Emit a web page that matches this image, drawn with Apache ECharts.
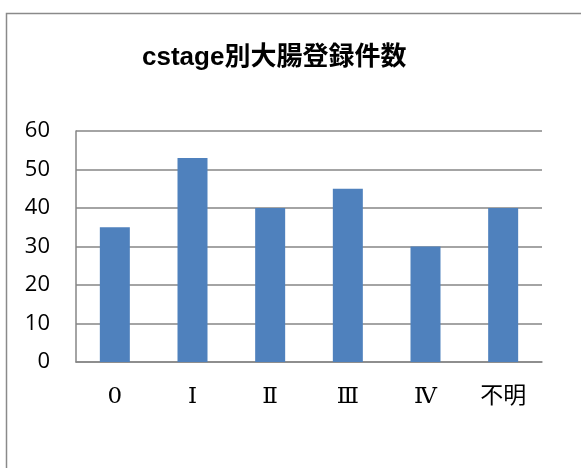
<!DOCTYPE html>
<html><head><meta charset="utf-8">
<script src="https://cdn.jsdelivr.net/npm/echarts@6/dist/echarts.min.js"></script>
<style>html,body{margin:0;padding:0;background:#fff}#c{width:581px;height:468px}</style>
</head><body><div id="c"></div>
<script>
const categories = ['0', 'Ⅰ', 'Ⅱ', 'Ⅲ', 'Ⅳ', '不明'];
const values = [35, 53, 40, 45, 30, 40];
const yTicks = { min: 0, max: 60, interval: 10 };
const titleText = 'cstage別大腸登録件数';

const chart = echarts.init(document.getElementById('c'), null, { renderer: 'canvas' });
chart.setOption({
  backgroundColor: '#fff',
  animation: false,
  graphic: [{
    type: 'rect', left: 4, top: 11, shape: { width: 620, height: 520 },
    style: { fill: 'none', stroke: '#8a8a8a', lineWidth: 1.5 }, silent: true
  }],
  title: {
    text: titleText, left: 137, top: 40,
    textStyle: { fontFamily: 'Liberation Sans, Noto Sans CJK JP', fontWeight: 'bold', fontSize: 26, color: '#000' }
  },
  grid: { left: 76, right: 39, top: 131, bottom: 106, containLabel: false },
  xAxis: {
    type: 'category', data: categories,
    axisLine: { show: true, lineStyle: { color: '#868686', width: 1.5 } },
    axisTick: { show: false },
    axisLabel: { margin: 24, fontSize: 23, color: '#000', fontFamily: 'DejaVu Serif, Noto Sans CJK JP' }
  },
  yAxis: {
    type: 'value', min: yTicks.min, max: yTicks.max, interval: yTicks.interval,
    axisLine: { show: true, lineStyle: { color: '#868686', width: 1.5 } },
    axisTick: { show: false },
    splitLine: { lineStyle: { color: '#868686', width: 1.5 } },
    axisLabel: { margin: 26, fontSize: 22, color: '#000', fontFamily: 'Open Sans' }
  },
  series: [{
    type: 'bar', data: values, barWidth: 30,
    itemStyle: { color: '#4F81BD' }
  }]
});
</script></body></html>
